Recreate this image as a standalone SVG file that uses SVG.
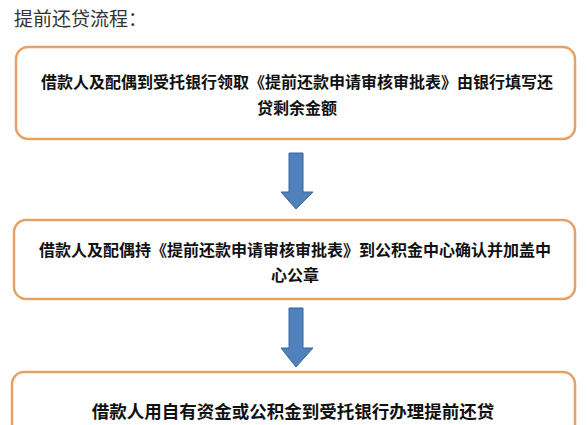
<svg xmlns="http://www.w3.org/2000/svg" width="588" height="425" viewBox="0 0 588 425">
<style>
.box{fill:#fff;stroke:#E6A266;stroke-width:2.5}
.t{font-family:"Noto Sans CJK SC","Noto Sans",sans-serif;font-weight:bold;font-size:16px;fill:#111;text-anchor:middle}
.title{font-family:"Noto Sans CJK SC","Noto Sans",sans-serif;font-size:19px;fill:#333}
.arr{fill:#4F81BD;stroke:#3B659A;stroke-width:1}
</style>
<rect width="588" height="425" fill="#fff"/>
<text class="title" x="14" y="26">提前还贷流程：</text>
<g id="node1">
<rect class="box" x="16" y="47" width="559" height="92" rx="12"/>
<text class="t" x="297" y="88">借款人及配偶到受托银行领取《提前还款申请审核审批表》由银行填写还</text>
<text class="t" x="297" y="114">贷剩余金额</text>
</g>
<g id="node2">
<rect class="box" x="14" y="220" width="561" height="79" rx="12"/>
<text class="t" x="295" y="256">借款人及配偶持《提前还款申请审核审批表》到公积金中心确认并加盖中</text>
<text class="t" x="295" y="281">心公章</text>
</g>
<g id="node3">
<rect class="box" x="12" y="372" width="563" height="70" rx="12"/>
<text class="t" x="293" y="418" style="font-size:17.5px">借款人用自有资金或公积金到受托银行办理提前还贷</text>
</g>
<g id="connectors">
<path class="arr" d="M289,153 H303 V192 H313 L296,209 L281,192 H289 Z"/>
<path class="arr" d="M289,308 H303 V348 H313 L296,367 L281,348 H289 Z"/>
</g>
</svg>
